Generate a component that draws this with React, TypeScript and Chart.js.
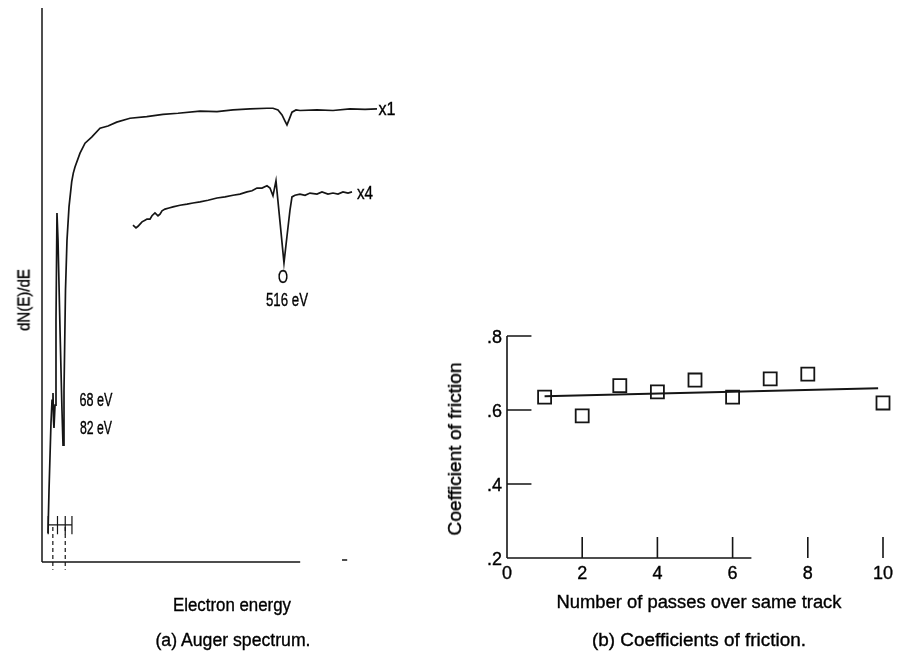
import React, { useEffect, useRef } from "react";
import { Chart, registerables } from "chart.js";
Chart.register(...registerables);

const FONT = '"Liberation Sans Narrow", "Liberation Sans", Arial, sans-serif';
const INK = "#151515";

// ---------- Panel (a): Auger spectrum (energy in eV, signal in arbitrary units) ----------
const x1Energy = [56.6, 58.6, 62.4, 64.4, 66.3, 67.3, 68.2, 70.2, 72.1, 74.0, 76.0, 79.9, 83.7, 85.7, 87.6, 90.5, 93.4, 97.3, 102.5, 105.6, 108.9, 118.6, 128.3, 141.2, 157.3, 172.8, 189.7, 215.4, 247.8, 279.3, 308.4, 351, 383.9, 414.9, 447.8, 480.7, 492.3, 502, 509.8, 515.6, 519.4, 523.3, 529.1, 536.9, 544.6, 577.5, 608.5, 641.4, 670.5, 693.7];
const x1Signal = [5.2, 13.0, 25.1, 29.2, 30.5, 25.6, 24.2, 28.3, 43.7, 63.0, 58.1, 41.9, 27.4, 21.1, 31.0, 49.1, 58.1, 64.1, 68.6, 70.2, 71.3, 73.8, 75.6, 76.7, 78.3, 78.7, 79.4, 80.1, 80.4, 80.8, 81.0, 81.4, 81.3, 81.6, 81.8, 81.9, 81.9, 81.6, 80.7, 79.6, 78.9, 79.8, 81.2, 81.6, 81.5, 81.6, 81.5, 81.8, 81.7, 81.8];
const x4Energy = [221.2, 227.0, 230.9, 234.8, 238.7, 244.5, 248.3, 254.1, 258.0, 263.8, 269.6, 273.5, 277.4, 283.2, 290.9, 298.7, 312.2, 325.8, 337.4, 351.0, 366.5, 383.9, 399.4, 414.9, 428.4, 442.0, 451.7, 461.3, 471.0, 480.7, 486.5, 492.3, 498.1, 505.9, 513.6, 519.4, 525.2, 529.1, 534.9, 544.6, 554.3, 564.0, 577.5, 587.2, 598.8, 608.5, 618.2, 627.9, 637.6, 645.3];
const x4Signal = [60.8, 60.3, 60.6, 61.0, 61.4, 61.7, 61.9, 61.9, 62.5, 63.0, 62.5, 62.8, 63.4, 63.7, 63.9, 64.1, 64.4, 64.6, 64.8, 65.0, 65.3, 65.7, 65.9, 66.2, 66.4, 66.8, 67.0, 67.5, 67.5, 67.9, 67.5, 66.1, 68.8, 61.4, 54.0, 58.8, 63.5, 65.9, 66.2, 66.4, 66.2, 66.6, 66.4, 66.8, 66.4, 66.6, 66.4, 66.8, 66.6, 66.8];
const bracketEnergy = [57, 75, 90, 103];
const dashedEnergy = [66, 90];
const energyRange = [45, 777];
const signalRange = [-4, 100];
const baselineEnd = 545;
const strayDash = [626, 636];

// ---------- Panel (b): Coefficients of friction ----------
const passes = [1, 2, 3, 4, 5, 6, 7, 8, 10];
const friction = [0.635, 0.584, 0.666, 0.649, 0.681, 0.635, 0.684, 0.697, 0.619];
const fitPasses = [1, 9.87];
const fitFriction = [0.637, 0.659];
const passTicks = [0, 2, 4, 6, 8, 10];
const frictionTicks = [0.2, 0.4, 0.6, 0.8];
const frictionTickLabels = [".2", ".4", ".6", ".8"];
const passAxisEnd = 6.5;

const pts = (xs: number[], ys: number[]) => xs.map((x, i) => ({ x, y: ys[i] }));
const segs = (list: number[][][]) => {
  const out: any[] = [];
  list.forEach((s, i) => {
    if (i > 0) out.push({ x: s[0][0], y: null });
    out.push({ x: s[0][0], y: s[0][1] });
    out.push({ x: s[1][0], y: s[1][1] });
  });
  return out;
};

const lineDs = (data: any[], width = 1.6, extra: any = {}) => ({
  data,
  showLine: true,
  borderColor: INK,
  borderWidth: width,
  pointRadius: 0,
  fill: false,
  tension: 0,
  spanGaps: false,
  clip: false,
  ...extra,
});

const measureCanvas = typeof document !== "undefined" ? document.createElement("canvas") : null;
function measure(text: string, size: number) {
  const ctx = measureCanvas!.getContext("2d")!;
  ctx.font = `${size}px ${FONT}`;
  return ctx.measureText(text).width;
}

function Label({ text, cx, cy, w, size, rotate }: any) {
  const sx = w / measure(text, size);
  return (
    <div
      style={{
        position: "absolute",
        left: cx,
        top: cy,
        transform: `translate(-50%, -50%) ${rotate ? "rotate(-90deg)" : ""} scaleX(${sx})`,
        font: `${size}px ${FONT}`,
        lineHeight: 1,
        whiteSpace: "nowrap",
        color: "#000",
        WebkitTextStroke: "0.35px #000",
      }}
    >
      {text}
    </div>
  );
}

const tickLabelPlugin = {
  id: "tickLabels",
  afterDraw(chart: any) {
    const { ctx, scales } = chart;
    const x = scales.x, y = scales.y;
    ctx.save();
    ctx.fillStyle = "#000";
    ctx.strokeStyle = "#000";
    ctx.lineWidth = 0.35;
    ctx.font = `18px ${FONT}`;
    ctx.textAlign = "right";
    ctx.textBaseline = "middle";
    frictionTicks.forEach((v, i) => {
      const px = x.getPixelForValue(0) - 5, py = y.getPixelForValue(v) + 2;
      ctx.fillText(frictionTickLabels[i], px, py);
      ctx.strokeText(frictionTickLabels[i], px, py);
    });
    ctx.textAlign = "center";
    passTicks.forEach((v) => {
      const px = x.getPixelForValue(v), py = y.getPixelForValue(0.2) + 16;
      ctx.fillText(String(v), px, py);
      ctx.strokeText(String(v), px, py);
    });
    ctx.restore();
  },
};

export default function App() {
  const leftRef = useRef<HTMLCanvasElement>(null);
  const rightRef = useRef<HTMLCanvasElement>(null);

  useEffect(() => {
    const common = {
      responsive: false,
      animation: false as const,
      events: [] as any[],
      plugins: { legend: { display: false }, tooltip: { enabled: false } },
    };

    const bracketSegs = segs([
      [[bracketEnergy[0], 6.7], [bracketEnergy[3], 6.7]],
      ...bracketEnergy.map((e) => [[e, 5.0], [e, 8.3]]),
    ]);
    const dashSegs = segs(dashedEnergy.map((e) => [[e, 6.3], [e, -1.4]]));

    const left = new Chart(leftRef.current!, {
      type: "scatter",
      data: {
        datasets: [
          lineDs(pts(x1Energy, x1Signal), 1.7),
          lineDs(pts(x4Energy, x4Signal), 1.7),
          lineDs([{ x: energyRange[0], y: 0 }, { x: energyRange[0], y: 100 }], 1.5),
          lineDs(segs([
            [[energyRange[0], 0], [baselineEnd, 0]],
            [[strayDash[0], 0.36], [strayDash[1], 0.36]],
          ]), 1.5),
          lineDs(bracketSegs, 1.2),
          lineDs(dashSegs, 1.2, { borderDash: [4, 3] }),
        ] as any,
      },
      options: {
        ...common,
        layout: { padding: { left: 42, right: 20, top: 8, bottom: 74.84 } },
        scales: {
          x: { type: "linear", display: false, min: energyRange[0], max: energyRange[1] },
          y: { type: "linear", display: false, min: signalRange[0], max: signalRange[1] },
        },
      } as any,
    });

    const tickSegs = segs([
      [[0, 0.2], [0, 0.8]],
      [[0, 0.2], [passAxisEnd, 0.2]],
      ...frictionTicks.filter((v) => v > 0.2).map((v) => [[0, v], [0.65, v]]),
      ...passTicks.filter((v) => v > 0).map((v) => [[v, 0.2], [v, 0.257]]),
    ]);

    const right = new Chart(rightRef.current!, {
      type: "scatter",
      data: {
        datasets: [
          lineDs(tickSegs, 1.6),
          lineDs(pts(fitPasses, fitFriction), 2),
          {
            data: pts(passes, friction),
            pointStyle: "rect",
            pointRadius: 9.2,
            pointBorderWidth: 1.8,
            pointBorderColor: INK,
            pointBackgroundColor: "#ffffff",
            showLine: false,
            clip: false,
          },
        ] as any,
      },
      options: {
        ...common,
        layout: { padding: { left: 67, right: 16, top: 36, bottom: 101 } },
        scales: {
          x: { type: "linear", display: false, min: 0, max: 10 },
          y: { type: "linear", display: false, min: 0.2, max: 0.8 },
        },
      } as any,
      plugins: [tickLabelPlugin],
    });

    return () => {
      left.destroy();
      right.destroy();
    };
  }, []);

  return (
    <div style={{ position: "fixed", left: 0, top: 0, width: 899, height: 659, background: "#fff", overflow: "hidden" }}>
      <canvas ref={leftRef} width={440} height={659} style={{ position: "absolute", left: 0, top: 0, width: 440, height: 659 }} />
      <canvas ref={rightRef} width={459} height={359} style={{ position: "absolute", left: 440, top: 300, width: 459, height: 359 }} />
      <Label text="x1" cx={387} cy={109} w={17} size={18} />
      <Label text="x4" cx={365} cy={193} w={16} size={18} />
      <Label text="O" cx={283} cy={277} w={10} size={18} />
      <Label text="516 eV" cx={287} cy={300} w={42} size={18} />
      <Label text="68 eV" cx={96} cy={400} w={33} size={18} />
      <Label text="82 eV" cx={96} cy={428} w={32} size={18} />
      <Label text="dN(E)/dE" cx={24} cy={300} w={62} size={17} rotate />
      <Label text="Electron energy" cx={232} cy={605} w={118} size={18} />
      <Label text="(a) Auger spectrum." cx={233} cy={640} w={156} size={18} />
      <Label text="Number of passes over same track" cx={699} cy={602} w={285} size={18} />
      <Label text="(b) Coefficients of friction." cx={699} cy={640} w={214} size={18} />
      <Label text="Coefficient of friction" cx={455} cy={449} w={173} size={18} rotate />
    </div>
  );
}
